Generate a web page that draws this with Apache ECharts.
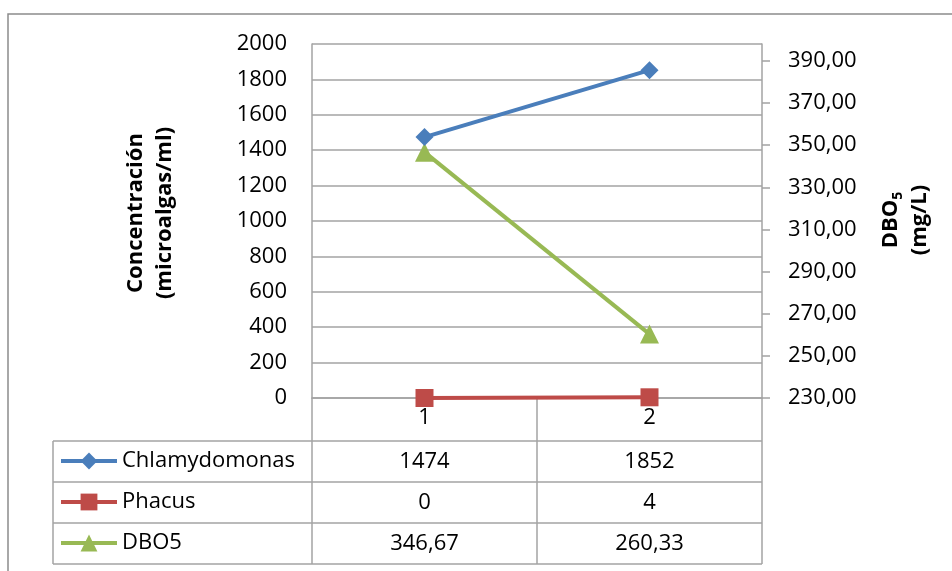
<!DOCTYPE html>
<html>
<head>
<meta charset="utf-8">
<script src="https://cdn.jsdelivr.net/npm/echarts@6/dist/echarts.min.js"></script>
<style>
  html, body { margin: 0; padding: 0; background: #ffffff; }
  #chart { width: 952px; height: 571px; }
</style>
</head>
<body>
<div id="chart"></div>
<script>
// Sampling points and measured values
const categories = ['1', '2'];
const chlamydomonas = [1474, 1852];
const phacus = [0, 4];
const dbo5 = [346.67, 260.33];

// Right axis (DBO5) tick values
const dboTicks = [230, 250, 270, 290, 310, 330, 350, 370, 390];

const seriesNames = ['Chlamydomonas', 'Phacus', 'DBO5'];
const colors = ['#4A7EBB', '#BE4B48', '#98B954'];

const FONT = '"Open Sans", "Noto Sans", sans-serif';
const GRID_COLOR = '#a3a3a3';

const fmtComma = v => v.toFixed(2).replace('.', ',');

const chart = echarts.init(document.getElementById('chart'), null, { renderer: 'canvas' });

const option = {
  animation: false,
  backgroundColor: '#ffffff',
  grid: { left: 312, right: 190, top: 44, bottom: 173, outerBoundsMode: 'none' },
  xAxis: {
    type: 'category',
    data: categories,
    boundaryGap: true,
    axisLine: { show: true, lineStyle: { color: GRID_COLOR, width: 1.5 } },
    axisTick: { show: false },
    axisLabel: { fontSize: 22, color: '#000', fontFamily: FONT, margin: 9 },
    splitLine: { show: false }
  },
  yAxis: [
    {
      type: 'value',
      position: 'left',
      min: 0,
      max: 2000,
      interval: 200,
      axisLine: { show: true, lineStyle: { color: GRID_COLOR, width: 1.5 } },
      axisTick: { show: false },
      axisLabel: {
        fontSize: 22, color: '#000', fontFamily: FONT, margin: 25,
        formatter: v => String(v)
      },
      splitLine: { show: true, lineStyle: { color: GRID_COLOR, width: 1.5 } }
    },
    {
      type: 'value',
      position: 'right',
      min: 230,
      max: 398,
      axisLine: { show: true, lineStyle: { color: GRID_COLOR, width: 1.5 } },
      axisTick: {
        show: true, length: 8, inside: false,
        customValues: dboTicks,
        lineStyle: { color: GRID_COLOR, width: 1.5 }
      },
      axisLabel: {
        fontSize: 22, color: '#000', fontFamily: FONT, margin: 26,
        customValues: dboTicks,
        formatter: v => fmtComma(v)
      },
      splitLine: { show: false }
    }
  ],
  legend: {
    orient: 'vertical',
    left: 59,
    top: 450,
    padding: 0,
    itemWidth: 56,
    itemHeight: 21,
    itemGap: 19,
    selectedMode: false,
    data: seriesNames,
    lineStyle: { width: 4 },
    textStyle: { fontSize: 22, color: '#000', fontFamily: FONT, lineHeight: 22 }
  },
  series: [
    {
      name: seriesNames[0], type: 'line', yAxisIndex: 0, data: chlamydomonas,
      symbol: 'diamond', symbolSize: 18, z: 3,
      lineStyle: { width: 4, color: colors[0] },
      itemStyle: { color: colors[0] }
    },
    {
      name: seriesNames[1], type: 'line', yAxisIndex: 0, data: phacus,
      symbol: 'rect', symbolSize: 18, z: 3,
      lineStyle: { width: 4, color: colors[1] },
      itemStyle: { color: colors[1] }
    },
    {
      name: seriesNames[2], type: 'line', yAxisIndex: 1, data: dbo5,
      symbol: 'triangle', symbolSize: [19, 19], z: 2,
      lineStyle: { width: 4, color: colors[2] },
      itemStyle: { color: colors[2] }
    }
  ]
};

chart.setOption(option);

// Data table beneath the plot, laid out from the category axis
function buildTable() {
  const c0 = chart.convertToPixel({ xAxisIndex: 0 }, categories[0]);
  const c1 = chart.convertToPixel({ xAxisIndex: 0 }, categories[1]);
  const band = c1 - c0;
  const colEdges = [c0 - band / 2, c0 + band / 2, c1 + band / 2];
  const axisY = chart.convertToPixel({ yAxisIndex: 0 }, 0);

  const tableLeft = 53;
  const tableTop = 441;
  const rowH = 41;
  const rows = [
    chlamydomonas.map(v => String(v)),
    phacus.map(v => String(v)),
    dbo5.map(fmtComma)
  ];
  const tableBottom = tableTop + rowH * rows.length;
  const lineStyle = { stroke: GRID_COLOR, lineWidth: 1.5 };

  const els = [];
  // outer chart frame
  els.push({
    type: 'rect', silent: true,
    shape: { x: 8, y: 14, width: 1000, height: 620 },
    style: { fill: null, stroke: '#8c8c8c', lineWidth: 1.5 }
  });
  // horizontal rules
  for (let i = 0; i <= rows.length; i++) {
    const y = tableTop + i * rowH;
    els.push({ type: 'line', silent: true, shape: { x1: tableLeft, y1: y, x2: colEdges[2], y2: y }, style: lineStyle });
  }
  // vertical rules
  els.push({ type: 'line', silent: true, shape: { x1: tableLeft, y1: tableTop, x2: tableLeft, y2: tableBottom }, style: lineStyle });
  colEdges.forEach(x => {
    els.push({ type: 'line', silent: true, shape: { x1: x, y1: axisY, x2: x, y2: tableBottom }, style: lineStyle });
  });
  // cell values
  rows.forEach((row, r) => {
    row.forEach((txt, c) => {
      els.push({
        type: 'text', silent: true,
        x: c === 0 ? c0 : c1,
        y: tableTop + rowH * (r + 0.5),
        style: {
          text: txt, fill: '#000', font: '22px ' + FONT,
          textAlign: 'center', textVerticalAlign: 'middle'
        }
      });
    });
  });
  // axis titles
  els.push({
    type: 'text', silent: true, x: 150, y: 213, rotation: Math.PI / 2,
    style: {
      text: 'Concentración\n(microalgas/ml)', fill: '#000',
      font: 'bold 22px ' + FONT, lineHeight: 29,
      textAlign: 'center', textVerticalAlign: 'middle'
    }
  });
  els.push({
    type: 'text', silent: true, x: 905, y: 220, rotation: Math.PI / 2,
    style: {
      text: '{m|DBO}{s|5}\n{m|(mg/L)}', fill: '#000',
      textAlign: 'center', textVerticalAlign: 'middle',
      rich: {
        m: { fontSize: 22, fontWeight: 'bold', fontFamily: FONT, lineHeight: 29, fill: '#000' },
        s: { fontSize: 14, fontWeight: 'bold', fontFamily: FONT, lineHeight: 20, verticalAlign: 'bottom', fill: '#000' }
      }
    }
  });

  chart.setOption({ graphic: { elements: els } });
}

buildTable();
</script>
</body>
</html>
